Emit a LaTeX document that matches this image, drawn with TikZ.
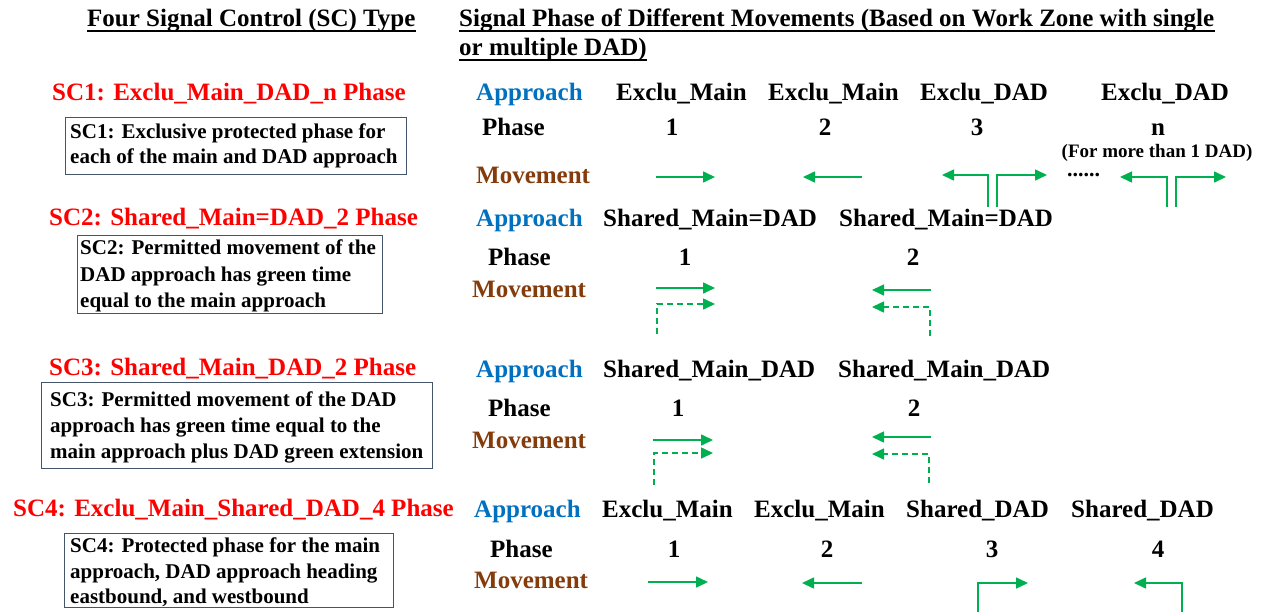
\documentclass[tikz,border=0pt]{standalone}
\usepackage{fontspec}
\setmainfont{Liberation Serif}
\usetikzlibrary{arrows.meta}
\definecolor{scred}{HTML}{FF0000}
\definecolor{apblue}{HTML}{0070C0}
\definecolor{mvbrown}{HTML}{843C0C}
\definecolor{arrgreen}{HTML}{00B050}
\definecolor{boxgray}{HTML}{44546A}
\begin{document}
\begin{tikzpicture}[x=1pt,y=-1pt,
  txt/.style={anchor=base west, inner sep=0pt, font=\fontsize{25}{30}\selectfont\bfseries},
  num/.style={anchor=base, inner sep=0pt, font=\fontsize{25}{30}\selectfont\bfseries},
  hd/.style={txt, text=scred},
  appr/.style={txt, text=apblue},
  movl/.style={txt, text=mvbrown},
  desc/.style={anchor=base west, inner sep=0pt, font=\fontsize{21}{26}\selectfont\bfseries},
  descbox/.style={draw=boxgray, line width=1.2pt, inner sep=0pt, anchor=north west},
  ul/.style={line width=2pt},
  mv/.style={draw=arrgreen, line width=1.6pt, -{Triangle[length=12pt,width=11pt]}},
  mvd/.style={mv, dash pattern=on 6pt off 4pt},
]
\useasboundingbox (0,0) rectangle (1265,611);

% titles
\node[txt] (t1) at (87,26) {Four Signal Control (SC) Type};
\node[txt] (t2a) at (459,26) {Signal Phase of Different Movements (Based on Work Zone with single};
\node[txt] (t2b) at (459,55) {or multiple DAD)};
\draw[ul] ([yshift=-4.5pt]t1.base west) -- ([yshift=-4.5pt]t1.base east);
\draw[ul] ([yshift=-4.5pt]t2a.base west) -- ([yshift=-4.5pt]t2a.base east);
\draw[ul] ([yshift=-4.5pt]t2b.base west) -- ([yshift=-4.5pt]t2b.base east);

% ---------- SC1 ----------
\node[hd] (h1) at (52,100) {SC1: Exclu\_Main\_DAD\_n Phase};
\node[descbox, minimum width=341pt, minimum height=57pt] (box1) at (65,117) {};
\node[desc] (b1l1) at (70,138) {SC1: Exclusive protected phase for};
\node[desc] (b1l2) at (70,163) {each of the main and DAD approach};

\node[appr] (a1) at (476,100) {Approach};
\node[txt] (a1p1) at (616,100) {Exclu\_Main};
\node[txt] (a1p2) at (768,100) {Exclu\_Main};
\node[txt] (a1p3) at (920,100) {Exclu\_DAD};
\node[txt] (a1pn) at (1101,100) {Exclu\_DAD};
\node[txt] (ph1) at (482,135) {Phase};
\node[num] (n11) at (672,135) {1};
\node[num] (n12) at (825,135) {2};
\node[num] (n13) at (977,135) {3};
\node[num] (n1n) at (1158,135) {n};
\node[anchor=base, inner sep=0pt, font=\fontsize{19}{22}\selectfont\bfseries] (more) at (1157,157) {(For more than 1 DAD)};
\node[movl] (m1) at (476,183) {Movement};
\node[anchor=base west, inner sep=0pt, text height=4pt, text depth=0pt, font=\fontsize{22}{26}\selectfont\bfseries] (dots) at (1067,176) {......};

\draw[mv] (656,177) -- (715,177);
\draw[mv] (862,177) -- (803,177);
\draw[mv] (988,207) -- (988,175) -- (942,175);
\draw[mv] (997,207) -- (997,175) -- (1047,175);
\draw[mv] (1167,207) -- (1167,177) -- (1120,177);
\draw[mv] (1176,207) -- (1176,177) -- (1226,177);

% ---------- SC2 ----------
\node[hd] (h2) at (49,225) {SC2: Shared\_Main=DAD\_2 Phase};
\node[descbox, minimum width=305pt, minimum height=78pt] (box2) at (77,235) {};
\node[desc] (b2l1) at (80,254) {SC2: Permitted movement of the};
\node[desc] (b2l2) at (80,281) {DAD approach has green time};
\node[desc] (b2l3) at (80,307) {equal to the main approach};

\node[appr] (a2) at (476,226) {Approach};
\node[txt] (a2p1) at (603,226) {Shared\_Main=DAD};
\node[txt] (a2p2) at (839,226) {Shared\_Main=DAD};
\node[txt] (ph2) at (488,265) {Phase};
\node[num] (n21) at (685,265) {1};
\node[num] (n22) at (913,265) {2};
\node[movl] (m2) at (472,297) {Movement};

\draw[mv] (656,288) -- (715,288);
\draw[mvd] (657,334) -- (657,304) -- (715,304);
\draw[mv] (931,290) -- (872,290);
\draw[mvd] (930,336) -- (930,307) -- (872,307);

% ---------- SC3 ----------
\node[hd] (h3) at (49,375) {SC3: Shared\_Main\_DAD\_2 Phase};
\node[descbox, minimum width=391pt, minimum height=86pt] (box3) at (41,382) {};
\node[desc] (b3l1) at (50,406) {SC3: Permitted movement of the DAD};
\node[desc] (b3l2) at (50,432) {approach has green time equal to the};
\node[desc] (b3l3) at (50,458) {main approach plus DAD green extension};

\node[appr] (a3) at (476,377) {Approach};
\node[txt] (a3p1) at (603,377) {Shared\_Main\_DAD};
\node[txt] (a3p2) at (838,377) {Shared\_Main\_DAD};
\node[txt] (ph3) at (488,416) {Phase};
\node[num] (n31) at (678,416) {1};
\node[num] (n32) at (914,416) {2};
\node[movl] (m3) at (472,448) {Movement};

\draw[mv] (653,440) -- (713,440);
\draw[mvd] (654,485) -- (654,453) -- (713,453);
\draw[mv] (931,437) -- (872,437);
\draw[mvd] (929,483) -- (929,454) -- (872,454);

% ---------- SC4 ----------
\node[hd] (h4) at (13,516) {SC4: Exclu\_Main\_Shared\_DAD\_4 Phase};
\node[descbox, minimum width=329pt, minimum height=74pt] (box4) at (64,533) {};
\node[desc] (b4l1) at (70,552) {SC4: Protected phase for the main};
\node[desc] (b4l2) at (70,578) {approach, DAD approach heading};
\node[desc] (b4l3) at (70,603) {eastbound, and westbound};

\node[appr] (a4) at (474,517) {Approach};
\node[txt] (a4p1) at (602,517) {Exclu\_Main};
\node[txt] (a4p2) at (754,517) {Exclu\_Main};
\node[txt] (a4p3) at (906,517) {Shared\_DAD};
\node[txt] (a4p4) at (1071,517) {Shared\_DAD};
\node[txt] (ph4) at (490,557) {Phase};
\node[num] (n41) at (674,557) {1};
\node[num] (n42) at (827,557) {2};
\node[num] (n43) at (992,557) {3};
\node[num] (n44) at (1158,557) {4};
\node[movl] (m4) at (474,588) {Movement};

\draw[mv] (648,582) -- (708,582);
\draw[mv] (862,583) -- (802,583);
\draw[mv] (978,614) -- (978,583) -- (1028,583);
\draw[mv] (1182,614) -- (1182,583) -- (1134,583);
\end{tikzpicture}
\end{document}
